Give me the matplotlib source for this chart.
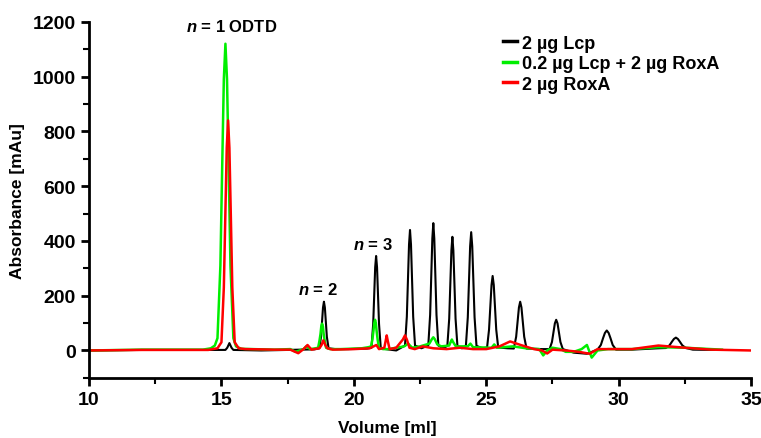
import matplotlib
matplotlib.use("Agg")
import matplotlib.pyplot as plt
from matplotlib.ticker import MultipleLocator

plt.rcParams['font.family'] = ['Liberation Sans', 'DejaVu Sans']
plt.rcParams['font.weight'] = 'bold'
plt.rcParams['mathtext.fontset'] = 'custom'
plt.rcParams['mathtext.it'] = 'Liberation Sans:bold:italic'
plt.rcParams['mathtext.rm'] = 'Liberation Sans:bold'
plt.rcParams['mathtext.bf'] = 'Liberation Sans:bold'

# Black: 2 µg Lcp
lcp_x = [10, 12, 14.5, 15.15, 15.22, 15.3, 15.38, 15.45, 16.5, 17.5, 18.0, 18.5,
         18.695, 18.76, 18.80, 18.835, 18.87, 18.905, 18.94, 18.98, 19.045, 19.3,
         19.8, 20.5, 20.665, 20.73, 20.77, 20.805, 20.84, 20.875, 20.91, 20.95, 21.015, 21.2,
         21.6, 21.93, 22.0, 22.045, 22.083, 22.12, 22.157, 22.195, 22.24, 22.31, 22.55,
         22.81, 22.88, 22.925, 22.963, 23.0, 23.037, 23.075, 23.12, 23.19, 23.38,
         23.53, 23.60, 23.645, 23.683, 23.72, 23.757, 23.795, 23.84, 23.91, 24.08,
         24.23, 24.302, 24.35, 24.39, 24.43, 24.47, 24.51, 24.558, 24.63, 24.85,
         25.03, 25.104, 25.155, 25.198, 25.24, 25.283, 25.325, 25.376, 25.45, 25.8,
         26.04, 26.128, 26.185, 26.233, 26.28, 26.328, 26.375, 26.432, 26.52, 27.1,
         27.39, 27.48, 27.54, 27.59, 27.64, 27.69, 27.74, 27.80, 27.89, 28.3, 28.8,
         29.2, 29.326, 29.41, 29.48, 29.55, 29.62, 29.69, 29.774, 29.9, 30.5, 31.5,
         31.785, 31.92, 32.01, 32.085, 32.16, 32.235, 32.31, 32.4, 32.535, 32.8, 33.6]
lcp_y = [0, 2, 2, 2, 10, 27, 10, 2, 0, 2, 3, 4,
         8, 50, 108, 157, 178, 157, 108, 50, 8, 5,
         5, 7, 10, 97, 210, 304, 345, 304, 210, 97, 10, 5,
         0, 18, 123, 268, 387, 440, 387, 268, 123, 18, 8,
         18, 130, 284, 409, 465, 409, 284, 130, 18, 8,
         17, 116, 253, 365, 415, 365, 253, 116, 17, 8,
         17, 121, 264, 380, 432, 380, 264, 121, 17, 8,
         11, 76, 166, 239, 272, 239, 166, 76, 11, 8,
         7, 50, 109, 157, 178, 157, 109, 50, 7, 5,
         5, 31, 68, 99, 112, 99, 68, 31, 5, -8, -12,
         3, 20, 45, 64, 73, 64, 45, 20, 3, 3, 8,
         9, 19, 32, 42, 47, 42, 32, 19, 9, 3, 2]

# Green: 0.2 µg Lcp + 2 µg RoxA
mix_x = [10, 12, 14.3, 14.6, 14.75, 14.85, 14.96, 15.03, 15.09, 15.15, 15.21, 15.27, 15.34, 15.45, 15.55, 15.75,
         17.0, 17.6, 17.8, 18.1, 18.2, 18.35,
         18.55, 18.65, 18.70, 18.74, 18.77, 18.8, 18.83, 18.86, 18.90, 18.95, 19.1, 19.5,
         20.3, 20.55, 20.65, 20.70, 20.74, 20.77, 20.8, 20.83, 20.86, 20.9, 20.95, 21.1, 21.3,
         21.9, 22.05, 22.2, 22.5, 22.85, 22.95, 23.0, 23.05, 23.15, 23.3, 23.6, 23.66, 23.7, 23.74, 23.85,
         24.3, 24.4, 24.5, 25.2, 25.3, 25.4, 26.0, 26.5, 27.0, 27.15,
         27.3, 27.5, 27.8, 28.0, 28.3, 28.6, 28.8, 28.98, 29.2, 29.6, 30.5, 31.5, 32.5, 33.5, 33.9]
mix_y = [0, 3, 3, 8, 18, 45, 310, 680, 990, 1120, 990, 680, 310, 45, 15, 6,
         3, 5, -5, 5, 15, 5,
         8, 10, 35, 60, 88, 98, 88, 60, 35, 10, 5, 5,
         8, 12, 15, 40, 72, 100, 112, 100, 70, 38, 10, 5, 5,
         15, 25, 10, 15, 25, 42, 48, 42, 22, 15, 18, 32, 40, 32, 15,
         15, 25, 12, 10, 22, 10, 15, 8, 5, -18,
         0, 10, 5, -5, -5, 5, 20, -26, 0, 5, 5, 12, 10, 5, 3]

# Red: 2 µg RoxA
rox_x = [10, 12, 14.5, 14.85, 15.0, 15.09, 15.15, 15.20, 15.25, 15.30, 15.35, 15.41, 15.5, 15.65, 15.9,
         17.0, 17.6, 17.9, 18.1, 18.25, 18.4,
         18.7, 18.78, 18.85, 18.92, 19.0, 19.2, 20.0, 20.6, 20.85, 20.95, 21.15, 21.2, 21.24, 21.28, 21.35,
         21.6, 21.85, 21.93, 22.0, 22.1, 22.3, 22.6,
         23.0, 23.5, 24.0, 24.5, 25.0, 25.5, 25.9, 26.3, 26.8, 27.1, 27.3, 27.5, 28.0, 28.5, 28.9, 29.2, 29.6,
         30.5, 31.5, 32.5, 33.5, 35.0]
rox_y = [0, 2, 2, 8, 30, 230, 510, 740, 840, 740, 510, 230, 30, 8, 5,
         3, 3, -10, 5, 20, 3,
         8, 20, 37, 20, 8, 3, 5, 8, 20, 5, 10, 35, 55, 35, 5,
         10, 40, 55, 40, 10, 5, 15,
         8, 5, 10, 5, 5, 15, 33, 20, 5, 0, -11, 3, 0, -5, -12, 5, 5,
         5, 18, 10, 3, 0]

series_labels = ["2 µg Lcp", "0.2 µg Lcp + 2 µg RoxA", "2 µg RoxA"]
peak_labels = [r"$n$ = 1 ODTD", r"$n$ = 2", r"$n$ = 3"]
peak_label_x = [15.4, 18.65, 20.7]
peak_label_y = [1186, 226, 390]

fig = plt.figure(figsize=(7.61, 4.39), dpi=100)
ax = fig.add_axes([0.117, 0.137, 0.870, 0.811])

ax.plot(lcp_x, lcp_y, color='black', lw=1.5, label=series_labels[0])
ax.plot(mix_x, mix_y, color='#00ee00', lw=1.8, label=series_labels[1])
ax.plot(rox_x, rox_y, color='#ff0000', lw=1.8, label=series_labels[2])

ax.set_xlim(10, 35)
ax.set_ylim(-100, 1200)
ax.xaxis.set_major_locator(MultipleLocator(5))
ax.xaxis.set_minor_locator(MultipleLocator(2.5))
ax.yaxis.set_major_locator(MultipleLocator(200))
ax.yaxis.set_minor_locator(MultipleLocator(100))
for s in ['top', 'right']:
    ax.spines[s].set_visible(False)
for s in ['left', 'bottom']:
    ax.spines[s].set_linewidth(2)
ax.tick_params(which='major', length=6, width=2, labelsize=14)
ax.tick_params(which='minor', length=4, width=1.5)
for lab in ax.get_xticklabels() + ax.get_yticklabels():
    lab.set_fontweight('bold')

ax.set_xlabel("Volume [ml]", fontsize=12.5, fontweight='bold')
ax.xaxis.set_label_coords(0.45, -0.118)
ax.set_ylabel("Absorbance [mAu]", fontsize=12.5, fontweight='bold')
ax.yaxis.set_label_coords(-0.097, 0.5)

for t, tx, ty in zip(peak_labels, peak_label_x, peak_label_y):
    ax.text(tx, ty, t, ha='center', va='center', fontsize=12, fontweight='bold')

leg = ax.legend(loc='upper left', bbox_to_anchor=(0.6, 1.01), frameon=False, handlelength=0.8,
                handletextpad=0.3, labelspacing=0.2, prop={'weight': 'bold', 'size': 13})
for h in leg.get_lines():
    h.set_linewidth(2.5)

fig.savefig("out.png", dpi=100)
